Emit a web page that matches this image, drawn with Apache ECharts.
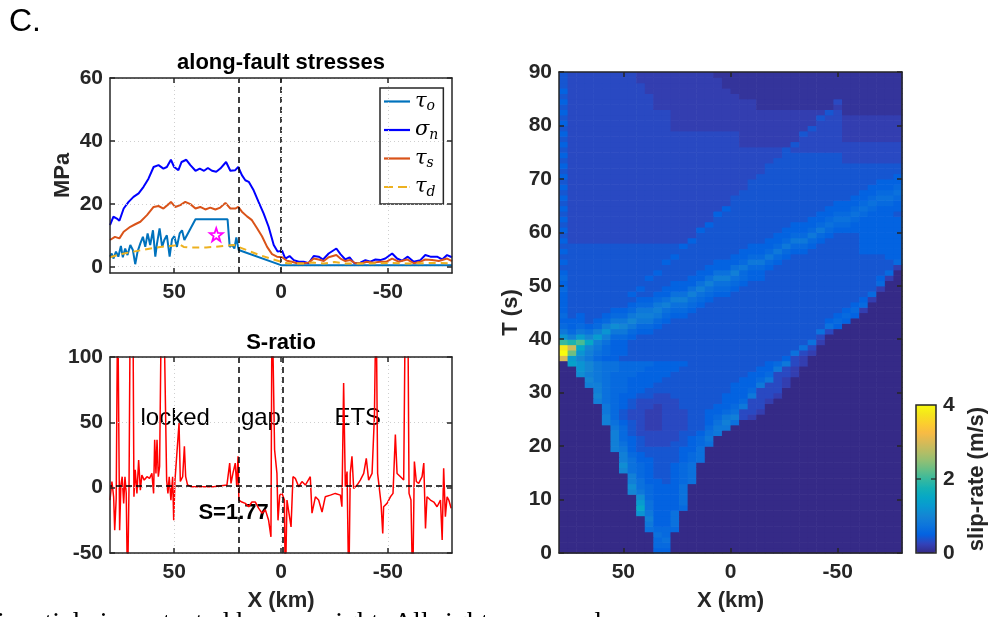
<!DOCTYPE html>
<html>
<head>
<meta charset="utf-8">
<script src="https://cdn.jsdelivr.net/npm/echarts@6/dist/echarts.min.js"></script>
<style>
  html, body { margin: 0; padding: 0; background: #fff; }
  #chart { width: 988px; height: 617px; }
</style>
</head>
<body>
<div id="chart"></div>
<script>
// ---------- along-fault stresses (MPa) vs along-strike distance X (km) ----------
const tauO = [[80,3.2],[79.2,4.2],[78.4,2.6],[77.2,4.8],[76.1,3.2],[74.9,6.6],[74,3],[72.9,5.8],[71.8,3.7],[70.5,6.9],[69.3,5.3],[68.2,0.8],[67.1,4.8],[65.8,7.4],[64.6,9.5],[63.5,6.3],[62.4,10.6],[61.2,6.9],[59.9,11.6],[58.8,3.2],[58,7.4],[56.8,12.2],[55.6,6.3],[54.6,8.5],[53.4,10],[52.1,3.2],[51,8.7],[49.9,9.7],[48.7,6.3],[47.4,10.6],[46.3,11.6],[45.2,8.5],[40,15.1],[25,15.1],[24,6.3],[22.9,6.9],[21.8,5.8],[20.9,9.3],[20.1,6.3],[19.8,5.3],[0,0.5],[-80,0.5]];
const sigmaN = [[80,13.2],[78.4,15.9],[76.8,15.3],[75.6,14.6],[73.6,18.5],[71.3,20.6],[69,22.2],[66.6,23.3],[64.3,25.4],[62,28],[59.6,31.7],[57.3,32.3],[55,31.2],[53.4,31.7],[51.5,34],[50,31.7],[48,30.7],[46.5,33.3],[44.3,34],[42.4,32.3],[40,30.5],[38,31.2],[36,30.5],[34.2,31.4],[32.3,30.5],[30.3,30.2],[28.4,31.2],[25.7,33.3],[23.7,30.5],[21.4,30.7],[20,31.7],[18.3,29.1],[16.7,27.5],[15.1,27],[12.8,24.3],[10.5,20.6],[8.1,16.9],[5.8,12.7],[3.4,6.9],[1.6,4.8],[-0.5,5.1],[-2,2.6],[-4,3.4],[-6,2.1],[-8.3,1.6],[-10.6,1.6],[-12.9,1.1],[-15.3,3.4],[-17.6,3.2],[-19.7,2.3],[-22.3,4.2],[-25.9,5.8],[-27.8,4],[-30.1,2.3],[-32.1,3],[-34.3,1.1],[-37.1,1.3],[-39.5,2.1],[-41.8,1.6],[-44.2,2.3],[-46.5,2.1],[-48.8,2.6],[-52,4.2],[-54.3,2.6],[-56.6,1.9],[-59.3,3.2],[-62.1,1.6],[-65.2,2.1],[-67.5,3.7],[-69.9,3.2],[-73,3.2],[-75.4,2.3],[-77.7,3.7],[-80,3]];
const tauS = [[80,8.5],[77.7,9.5],[75.6,9],[73.6,11.1],[70.5,12.7],[68.2,13.5],[65.8,14.3],[62.7,16.4],[59.6,19],[57.3,19.3],[55,18.5],[52.6,19.9],[51.5,20.6],[49.5,19],[47.1,19.6],[44.8,20.6],[42.4,19.9],[40,18.5],[37.8,19],[35.4,18.2],[33.1,18.8],[30.7,18.2],[28.4,18.8],[26,20.3],[23.7,18.5],[21.4,18.5],[20,19],[18.3,17.5],[15.9,16],[13.6,14.8],[11.2,12.2],[8.9,9.7],[6.5,6.3],[4.2,4],[1.9,3.2],[-0.5,3],[-2.8,1.9],[-5.1,1.6],[-7.5,1.1],[-10.6,1.1],[-13,1.3],[-15.3,2.6],[-17.6,2.3],[-20,1.8],[-22.3,3],[-25.9,3.7],[-27.8,2.6],[-30.1,1.8],[-32.4,2.1],[-34.8,1.1],[-37.9,1.1],[-40.2,1.6],[-43.2,1.3],[-46.3,1.6],[-49.4,1.6],[-52,2.6],[-55,1.6],[-59,2.3],[-62.1,1.1],[-65.2,1.6],[-67.5,2.3],[-70.7,2.1],[-73.8,1.8],[-77.7,2.6],[-80,1.8]];
const tauD = [[80,3],[75,4],[69,4.8],[65,5.3],[61,5.8],[56.5,6.3],[52,6.6],[47,6.9],[45.5,6.3],[43,6.1],[39.3,6.1],[35,6.1],[31.5,6.3],[27,6.6],[22,6.9],[20,6.3],[15,5],[10,3.7],[5,2.6],[0,1.6],[-3,1.1],[-10,1],[-15,1.3],[-20,1],[-25,1.5],[-30,1],[-40,1],[-50,1.2],[-60,1],[-70,1.2],[-80,1.1]];
const hypocenter = [[30.3, 10.2]];
const stressBounds = [20, 0];

// ---------- S-ratio along strike ----------
const sRatio = [[80,-9.5],[79.1,4.7],[78.3,-7],[77.8,-32.6],[77.1,-8.4],[76.4,150],[75.8,150],[75.5,-32.6],[74.9,2],[74.3,8.4],[73.6,-12],[73,8.4],[72.4,-4.4],[71.8,-80],[71.1,0.7],[70.5,150],[69.3,150],[68.8,-7],[68.2,13.6],[67.4,-4.4],[66.6,21.2],[65.8,-1.9],[65.1,9.6],[64,5.8],[62.7,8.4],[61.5,7.1],[60.4,10.9],[59.6,-4.4],[59.1,36.6],[58.5,10.9],[58,36.6],[57.4,8.4],[56.8,16.2],[55.9,150],[54.9,150],[54,150],[53.5,5.8],[52.9,-4.4],[52.3,8.4],[51.5,-9.5],[50.7,8.4],[50.2,-25],[49.6,5.8],[48.7,4.7],[47.7,49.5],[47.1,4.7],[46,8.4],[45.2,31.6],[44.6,8.4],[43.7,2],[41.7,0.7],[37.8,0.7],[31.5,0.7],[25.3,2],[24,18.8],[23.4,3.3],[22.5,10.9],[21.4,18.8],[20.7,0.7],[20.1,24],[19.7,-9.5],[18.3,-11],[16.7,-12],[15.1,-14.6],[13.6,-11],[12,-11],[10.5,-15.7],[8.9,-19.5],[7.3,-17],[5.8,-25],[4.7,-37.7],[4.2,150],[3.4,150],[3,29],[1.9,10.9],[1.4,-25],[0.6,-5.7],[-0.5,-4.4],[-1.6,-9.5],[-2,-80],[-2.8,-9.5],[-3.7,-8.4],[-4.7,-30],[-5.6,8.4],[-6.7,7.1],[-8.3,0.7],[-9.8,4.7],[-11.4,2],[-13.7,8.4],[-14.5,-19.5],[-16.1,-7],[-17.6,-9.5],[-19.2,-18.6],[-20.7,-7],[-23.1,-5.7],[-25.4,-4.4],[-27.8,-5.7],[-28.5,-14.6],[-29.3,80],[-30.1,0.7],[-30.9,12.3],[-31.7,-80],[-32.4,10.9],[-33.2,24],[-34,-0.6],[-35.6,2],[-37.1,5.8],[-38.7,10.9],[-39.9,22.4],[-41,5.8],[-42.6,10.9],[-43.7,54.6],[-44.5,150],[-45.2,10.9],[-46.8,-12],[-47.6,-35],[-48,-14.6],[-49.6,-12],[-51.2,-7],[-52.4,-4.4],[-53.5,40.6],[-54.3,10.9],[-55.9,8.4],[-57.4,5.8],[-58.2,150],[-59.3,150],[-59.9,-4.4],[-60.8,-9.5],[-61.6,-80],[-62.4,20],[-63.3,4.7],[-64.4,3.3],[-66,8.4],[-66.8,18.8],[-67.6,-31.3],[-68.3,-7],[-69.9,-9.5],[-71.5,-11],[-73,-14.6],[-74.6,-9.5],[-75.4,-40],[-76.1,14.9],[-76.9,-22.3],[-77.7,-7],[-78.5,-9.5],[-79.6,-15.7]];
const sCritical = 1.77;
const sRatioBounds = [20, -1];
const zoneLabels = [
  { name: 'locked', value: [49.5, 53.3] },
  { name: 'gap', value: [9.4, 53.3] },
  { name: 'ETS', value: [-35.9, 53.3] },
  { name: 'S=1.77', value: [22.2, -19.6] }
];

// ---------- slip rate (m/s) on the X–T plane ----------
// columns: centre X of each 4 km bin; rows: 1 s bins starting at T = 0 s (first row)
// each character is the slip rate in units of 0.1 m/s (see slipCode)
const slipX = [78,74,70,66,62,58,54,50,46,42,38,34,30,26,22,18,14,10,6,2,-2,-6,-10,-14,-18,-22,-26,-30,-34,-38,-42,-46,-50,-54,-58,-62,-66,-70,-74,-78];
const slipRowStep = 1;
const slipCode = '0123456789ABCDEFGHIJKLMNOPQRSTUVWXYZabcdefghijklmnopqrstuvwxyz';
const slipRows = [
  '0000000000 0550000000 0000000000 0000000000',
  '0000000000 0660000000 0000000000 0000000000',
  '0000000000 0670000000 0000000000 0000000000',
  '0000000000 0760000000 0000000000 0000000000',
  '0000000000 7666000000 0000000000 0000000000',
  '0000000000 8557000000 0000000000 0000000000',
  '0000000000 9557000000 0000000000 0000000000',
  '000000000C 8557000000 0000000000 0000000000',
  '000000000F 7555600000 0000000000 0000000000',
  '000000000D 7555700000 0000000000 0000000000',
  '000000000B 6555700000 0000000000 0000000000',
  '00000000A8 6555700000 0000000000 0000000000',
  '00000000B7 6555700000 0000000000 0000000000',
  '0000000097 5545670000 0000000000 0000000000',
  '0000000096 5445670000 0000000000 0000000000',
  '0000000A76 5445670000 0000000000 0000000000',
  '0000000B76 5445670000 0000000000 0000000000',
  '0000000975 5444567000 0000000000 0000000000',
  '0000000965 4444567000 0000000000 0000000000',
  '0000009854 4444557000 0000000000 0000000000',
  '0000009754 3334456700 0000000000 0000000000',
  '0000009654 3333456800 0000000000 0000000000',
  '0000009643 3333445780 0000000000 0000000000',
  '0000008643 2233344688 0000000000 0000000000',
  '0000097543 2233344579 7000000000 0000000000',
  '0000096433 2233344568 9320000000 0000000000',
  '0000086433 2233344556 7332000000 0000000000',
  '0000086543 3233444455 6833000000 0000000000',
  '0000976543 3333444445 5633200000 0000000000',
  '0000A76554 4334444445 5583320000 0000000000',
  '0000976655 4444444444 5563330000 0000000000',
  '0009976655 5444444444 5558332000 0000000000',
  '000A876655 5544444444 4556832000 0000000000',
  '00B9876665 5554444444 4455633200 0000000000',
  '00CA877666 5555444444 4445583200 0000000000',
  '0ECA877666 6555544444 4444568320 0000000000',
  'UDA8655444 4444444444 4444445320 0000000000',
  'eNC9765544 4444444444 4444444732 0000000000',
  'cTFA865544 4444444444 4444444473 0000000000',
  'KILF975544 4444444444 4444444447 2000000000',
  'C9DAD96654 4444444444 4444444444 3000000000',
  '86879C8865 5444444444 4444444444 7300000000',
  '656569BA86 6544444444 4444444444 4750000000',
  '55545688A8 8654444444 4444444444 4565000000',
  '6454456689 9865544444 4444444444 4456500000',
  '5444445568 8976654444 4444444444 4445620000',
  '5444444456 6897765444 4444444444 4444560000',
  '5444444445 5679976544 4444444444 4444452000',
  '5444444454 4557797655 4444444444 4444446000',
  '6444444445 4455579766 5444444444 4444444200',
  '5444444444 4445557977 6544444444 4444444600',
  '6444444444 5444455799 7655444444 4444444520',
  '5444444444 4544445577 9655444444 4444444460',
  '4444444444 4444444555 7866544444 4444444442',
  '5444444444 4454444455 5688654444 4444444446',
  '4444444444 4445444444 5566865444 4444444455',
  '5444444444 4444444444 4555686554 4444455555',
  '4444444444 4444544444 4455568665 4444455555',
  '5333333333 3333354444 4444556886 5444455555',
  '4333333333 3333334444 4444455668 6544455555',
  '5333333333 3333335444 4444445556 8655555555',
  '4333333333 3333333544 4444444555 6766555555',
  '5333333333 3333333344 4444444445 5677655555',
  '4333333333 3333333354 4444444444 5566765554',
  '5333333333 3333333335 4444444444 4555676555',
  '4333333333 3333333333 4444444444 4455567665',
  '5333333333 3333333333 4444444444 4444556776',
  '4333333333 3333333333 3444444444 4444455667',
  '5333333333 3333333333 3344444444 4444445556',
  '4333333333 3333333333 3344444444 4444444555',
  '5333333333 3333333333 3334444444 4444444445',
  '4333333333 3333333333 3333444444 4444444444',
  '5333333333 3333333333 3333444444 4444444444',
  '4333333333 3333333333 3333344444 4443333333',
  '5333333333 3333333333 3333334444 4443333333',
  '4333333333 3333333333 3333334333 3333333333',
  '5333333333 3333333333 3222222433 3333333333',
  '4333333333 3333333333 3222222233 3332222222',
  '5333333333 3333333333 3222222243 3332222222',
  '4333333333 3332222222 2222222224 3332222222',
  '5333333333 3332222222 2222222222 3332222222',
  '4333333333 3332222222 2222222222 4332222222',
  '5333333333 3332222222 2222222222 2431111111',
  '4333333333 3222222222 2221111111 1121111111',
  '5333333333 3222222222 2221111111 1131111111',
  '4333333333 3222222222 2111111111 1111111111',
  '5333333333 2222222222 1111111111 1111111111',
  '4333333333 2222222221 1111111111 1111111111',
  '4333333332 2222222221 1111111111 1111111111',
  '4333333332 2222222211 1111111111 1111111111'
];

// ---------- ticks ----------
const xTicks = [50, 0, -50];
const stressTicks = [0, 20, 40, 60];
const slipBarTicks = [0, 2, 4];

// MATLAB parula colormap
const parula = ['#352a87','#3243ba','#0363e1','#0d75dc','#1485d4','#0998d1','#06a7c6','#15b1b4','#38b99e','#65be86','#92bf73','#b7bd64','#d9ba56','#f8bb44','#fcce2e','#f5e41d','#f9fb0e'];

// ---------- build chart ----------
const FONT = '"Liberation Sans", Arial, Helvetica, sans-serif';
const SERIF = '"DejaVu Serif", "Liberation Serif", serif';
const AX = '#262626';
const DOT = '#cfcfcf';

const slipCells = [];
slipRows.forEach((row, k) => {
  const cells = row.replace(/ /g, '');
  slipX.forEach((x, i) => {
    const ch = cells.charAt(i) || '0';
    slipCells.push([x, k * slipRowStep, slipCode.indexOf(ch) / 10]);
  });
});

const grids = [
  { left: 110, top: 78, width: 342, height: 195 },
  { left: 110, top: 357, width: 342, height: 196 },
  { left: 559, top: 72, width: 343, height: 481 }
];

const tickLabel = { color: AX, fontFamily: FONT, fontWeight: 'bold', fontSize: 21 };
const nameStyle = { color: AX, fontFamily: FONT, fontWeight: 'bold', fontSize: 22 };

function xAxesFor(g, showGrid, name) {
  const common = {
    type: 'value', gridIndex: g, min: -80, max: 80, inverse: true, z: 10,
    axisLine: { show: true, onZero: false, lineStyle: { color: AX, width: 1.5 } },
    axisTick: { show: true, inside: true, length: 5, customValues: xTicks, lineStyle: { color: AX, width: 1.5 } }
  };
  return [
    Object.assign({}, common, {
      position: 'bottom',
      axisLabel: Object.assign({ show: true, customValues: xTicks, margin: 9 }, tickLabel),
      splitLine: { show: showGrid, lineStyle: { color: DOT, type: [1, 3], width: 1 } },
      name: name || '', nameLocation: 'middle', nameGap: 37, nameTextStyle: nameStyle
    }),
    Object.assign({}, common, {
      position: 'top',
      axisLabel: { show: false },
      splitLine: { show: false }
    })
  ];
}

function yAxesFor(g, cfg) {
  const tick = { show: true, inside: true, length: 5, lineStyle: { color: AX, width: 1.5 } };
  const label = Object.assign({ show: true, margin: 7 }, tickLabel);
  if (cfg.ticks) { tick.customValues = cfg.ticks; label.customValues = cfg.ticks; }
  const common = {
    type: 'value', gridIndex: g, min: cfg.min, max: cfg.max, z: 10,
    axisLine: { show: true, onZero: false, lineStyle: { color: AX, width: 1.5 } },
    axisTick: tick
  };
  if (cfg.interval) common.interval = cfg.interval;
  return [
    Object.assign({}, common, {
      position: 'left', axisLabel: label,
      splitLine: { show: cfg.grid, lineStyle: { color: DOT, type: [1, 3], width: 1 } },
      name: cfg.name || '', nameLocation: 'middle', nameGap: cfg.nameGap || 36, nameTextStyle: nameStyle
    }),
    Object.assign({}, common, {
      position: 'right', axisLabel: { show: false }, splitLine: { show: false }
    })
  ];
}

const dashed = { color: '#000', type: [6, 4], width: 1.5 };

// legend swatches: a solid stroke, and a two-dash stroke for the dashed series
const solidIcon = 'path://M0,0H26V2.2H0Z';
const dashIcon = 'path://M0,0H9V2.2H0Z M14,0H23V2.2H14Z M25.6,0H26V2.2H25.6Z';
const legendItems = [
  { name: 'τo', icon: solidIcon },
  { name: 'σn', icon: solidIcon },
  { name: 'τs', icon: solidIcon },
  { name: 'τd', icon: dashIcon }
];

const option = {
  animation: false,
  backgroundColor: '#fff',
  grid: grids,
  legend: {
    data: legendItems,
    orient: 'vertical',
    left: 380, top: 88,
    itemWidth: 26, itemHeight: 2.2, itemGap: 6,
    padding: [3, 5, 5, 4],
    backgroundColor: '#fff',
    borderColor: AX, borderWidth: 1.5, borderRadius: 0,
    selectedMode: false,
    formatter: n => '{g|' + n.charAt(0) + '}{s|' + n.slice(1) + '}',
    textStyle: {
      rich: {
        g: { fontFamily: SERIF, fontStyle: 'italic', fontSize: 21, color: '#000' },
        s: { fontFamily: SERIF, fontStyle: 'italic', fontSize: 14, color: '#000', verticalAlign: 'bottom', padding: [10, 0, 0, 0] }
      }
    }
  },
  visualMap: {
    type: 'continuous', min: 0, max: 4, dimension: 2, seriesIndex: 7,
    inRange: { color: parula },
    calculable: false, hoverLink: false, realtime: false,
    orient: 'vertical', left: 916, top: 405,
    itemWidth: 20, itemHeight: 148, padding: 0,
    text: null, textStyle: { color: 'rgba(0,0,0,0)' }
  },
  xAxis: [].concat(xAxesFor(0, true), xAxesFor(1, true, 'X (km)'), xAxesFor(2, false, 'X (km)')),
  yAxis: [].concat(
    yAxesFor(0, { min: -2, max: 60, ticks: stressTicks, grid: true, name: 'MPa', nameGap: 36 }),
    yAxesFor(1, { min: -50, max: 100, interval: 50, grid: true }),
    yAxesFor(2, { min: 0, max: 90, interval: 10, grid: false, name: 'T (s)', nameGap: 37 })
  ),
  series: [
    { name: 'τo', type: 'line', xAxisIndex: 0, yAxisIndex: 0, data: tauO, symbol: 'none',
      lineStyle: { color: '#0072bd', width: 2 }, itemStyle: { color: '#0072bd' } },
    { name: 'σn', type: 'line', xAxisIndex: 0, yAxisIndex: 0, data: sigmaN, symbol: 'none',
      lineStyle: { color: '#0000ff', width: 2 }, itemStyle: { color: '#0000ff' },
      markLine: { silent: true, symbol: 'none', label: { show: false }, lineStyle: dashed,
        data: stressBounds.map(v => ({ xAxis: v })) } },
    { name: 'τs', type: 'line', xAxisIndex: 0, yAxisIndex: 0, data: tauS, symbol: 'none',
      lineStyle: { color: '#d95319', width: 2 }, itemStyle: { color: '#d95319' } },
    { name: 'τd', type: 'line', xAxisIndex: 0, yAxisIndex: 0, data: tauD, symbol: 'none',
      lineStyle: { color: '#edb120', width: 2, type: [7, 5] }, itemStyle: { color: '#edb120' } },
    { name: 'hypocenter', type: 'scatter', xAxisIndex: 0, yAxisIndex: 0, data: hypocenter,
      symbol: 'path://M0,-10L2.35,-3.24L9.51,-3.09L3.8,1.24L5.88,8.09L0,4L-5.88,8.09L-3.8,1.24L-9.51,-3.09L-2.35,-3.24Z',
      symbolSize: 13, itemStyle: { color: 'rgba(0,0,0,0)', borderColor: '#ff00ff', borderWidth: 1.8, opacity: 1 } },
    { name: 'S-ratio', type: 'line', xAxisIndex: 2, yAxisIndex: 2, data: sRatio, symbol: 'none',
      lineStyle: { color: '#ff0000', width: 1.5 }, itemStyle: { color: '#ff0000' },
      markLine: { silent: true, symbol: 'none', label: { show: false }, lineStyle: dashed,
        data: sRatioBounds.map(v => ({ xAxis: v })).concat([{ yAxis: sCritical }]) } },
    { name: 'zones', type: 'scatter', xAxisIndex: 2, yAxisIndex: 2, symbolSize: 0, silent: true,
      itemStyle: { opacity: 1 },
      data: zoneLabels.map(z => ({
        name: z.name, value: z.value,
        label: { show: true, position: 'inside', formatter: '{b}', color: '#000', opacity: 1, fontFamily: FONT,
          fontSize: z.name.indexOf('S=') === 0 ? 22 : 24,
          fontWeight: z.name.indexOf('S=') === 0 ? 'bold' : 'normal' }
      })) },
    { name: 'slip-rate', type: 'custom', xAxisIndex: 4, yAxisIndex: 4, data: slipCells,
      encode: { x: 0, y: 1 }, clip: true, silent: true,
      renderItem: (params, api) => {
        const x = api.value(0), t = api.value(1);
        const a = api.coord([x + 2, t + slipRowStep]);
        const b = api.coord([x - 2, t]);
        return {
          type: 'rect',
          shape: { x: Math.min(a[0], b[0]), y: Math.min(a[1], b[1]),
                   width: Math.abs(b[0] - a[0]) + 0.6, height: Math.abs(b[1] - a[1]) + 0.6 },
          style: { fill: api.visual('color') }
        };
      } }
  ],
  graphic: [
    { type: 'text', x: 9, y: 6, style: { text: 'C.', font: '32px ' + FONT, fill: '#000' } },
    { type: 'text', x: 281, y: 63, style: { text: 'along-fault stresses', font: 'bold 22px ' + FONT, fill: '#000',
      align: 'center', verticalAlign: 'middle', textAlign: 'center', textVerticalAlign: 'middle' } },
    { type: 'text', x: 281, y: 343, style: { text: 'S-ratio', font: 'bold 22px ' + FONT, fill: '#000',
      align: 'center', verticalAlign: 'middle', textAlign: 'center', textVerticalAlign: 'middle' } },
    { type: 'rect', shape: { x: 916, y: 405, width: 20, height: 148 }, z: 20,
      style: { fill: 'none', stroke: AX, lineWidth: 1.5 } },
    { type: 'line', shape: { x1: 931, y1: 479, x2: 936, y2: 479 }, z: 20, style: { stroke: AX, lineWidth: 1.2 } },
    { type: 'line', shape: { x1: 916, y1: 479, x2: 921, y2: 479 }, z: 20, style: { stroke: AX, lineWidth: 1.2 } }
  ].concat(slipBarTicks.map(v => ({
    type: 'text', x: 943, y: 553 - v / 4 * 148,
    style: { text: String(v), font: 'bold 21px ' + FONT, fill: AX,
      align: 'left', verticalAlign: 'middle', textAlign: 'left', textVerticalAlign: 'middle' }
  }))).concat([
    { type: 'text', x: 977, y: 479, rotation: Math.PI / 2,
      style: { text: 'slip-rate (m/s)', font: 'bold 22px ' + FONT, fill: AX,
        align: 'center', verticalAlign: 'middle', textAlign: 'center', textVerticalAlign: 'middle' } },
    { type: 'text', x: -34, y: 610,
      style: { text: 'This article is protected by copyright. All rights reserved.', font: '28px "Liberation Serif", serif', fill: '#000' } }
  ])
};

const chart = echarts.init(document.getElementById('chart'), null, { renderer: 'canvas', width: 988, height: 617 });
chart.setOption(option);
</script>
</body>
</html>
